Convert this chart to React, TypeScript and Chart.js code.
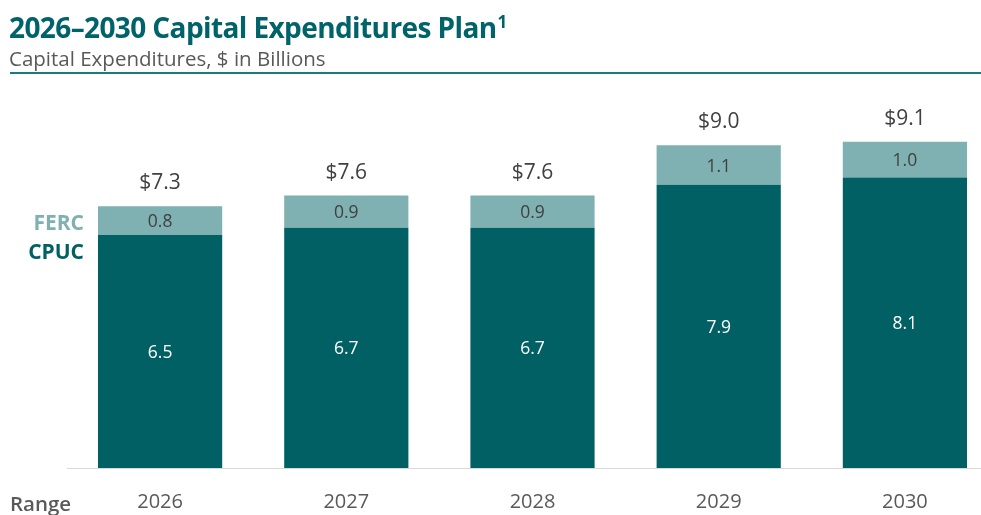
import React, { useEffect, useRef } from "react";
import { Chart, registerables } from "chart.js";

Chart.register(...registerables);

const years = ["2026", "2027", "2028", "2029", "2030"];
const cpuc = [6.5, 6.7, 6.7, 7.9, 8.1];
const ferc = [0.8, 0.9, 0.9, 1.1, 1.0];
const totals = ["$7.3", "$7.6", "$7.6", "$9.0", "$9.1"];

const DARK = "#006064";
const LIGHT = "#7fb0b2";
const FONT = "'Open Sans', 'Noto Sans', sans-serif";

const labelPlugin = {
  id: "barLabels",
  afterDatasetsDraw(chart: any) {
    const ctx = chart.ctx;
    ctx.save();
    ctx.textAlign = "center";
    ctx.textBaseline = "middle";
    chart.data.datasets.forEach((ds: any, di: number) => {
      const meta = chart.getDatasetMeta(di);
      meta.data.forEach((bar: any, i: number) => {
        const top = Math.min(bar.y, bar.base);
        const bot = Math.max(bar.y, bar.base);
        ctx.font = `17.5px ${FONT}`;
        ctx.fillStyle = di === 0 ? "#ffffff" : "#404040";
        ctx.fillText(ds.data[i].toFixed(1), bar.x, (top + bot) / 2 + 1.5);
        if (di === chart.data.datasets.length - 1) {
          ctx.font = `21px ${FONT}`;
          ctx.fillStyle = "#404040";
          ctx.fillText(totals[i], bar.x, top - 23);
        }
      });
    });
    ctx.restore();
  },
};

export default function App() {
  const ref = useRef<HTMLCanvasElement>(null);
  useEffect(() => {
    if (!ref.current) return;
    const chart = new Chart(ref.current, {
      type: "bar",
      data: {
        labels: years,
        datasets: [
          { label: "CPUC", data: cpuc, backgroundColor: DARK },
          { label: "FERC", data: ferc, backgroundColor: LIGHT },
        ],
      },
      options: {
        animation: false,
        responsive: false,
        devicePixelRatio: 1,
        layout: { padding: { left: 67, right: 2, top: 109.5, bottom: 0 } },
        datasets: { bar: { categoryPercentage: 1, barPercentage: 0.667 } },
        plugins: { legend: { display: false }, tooltip: { enabled: false } },
        scales: {
          x: {
            stacked: true,
            grid: { color: "transparent", drawTicks: false },
            border: { display: true, color: "#d9d9d9", width: 1 },
            ticks: { color: "#595959", font: { family: FONT, size: 20 }, padding: 22 },
            afterFit: (s: any) => {
              s.height = 47;
            },
          },
          y: { stacked: true, display: false, min: 0, max: 10 },
        },
      },
      plugins: [labelPlugin],
    });
    return () => chart.destroy();
  }, []);

  return (
    <div
      style={{
        position: "absolute",
        left: 0,
        top: 0,
        width: 981,
        height: 515,
        overflow: "hidden",
        background: "#fff",
        fontFamily: FONT,
      }}
    >
      <canvas ref={ref} width={1000} height={515} style={{ position: "absolute", left: 0, top: 0 }} />
      <div
        style={{
          position: "absolute",
          left: 9,
          top: 6,
          fontSize: 28,
          fontWeight: 700,
          color: "#00636a",
          lineHeight: "32px",
          whiteSpace: "nowrap",
          letterSpacing: -0.6,
        }}
      >
        2026–2030 Capital Expenditures Plan<sup style={{ fontSize: 17, verticalAlign: 10, marginLeft: 1 }}>1</sup>
      </div>
      <div
        style={{
          position: "absolute",
          left: 9,
          top: 45,
          fontSize: 20.5,
          color: "#595959",
          lineHeight: "26px",
          whiteSpace: "nowrap",
        }}
      >
        Capital Expenditures, $ in Billions
      </div>
      <div
        style={{
          position: "absolute",
          left: 10,
          top: 72,
          width: 971,
          height: 2,
          background: "#1a7a80",
        }}
      />
      <div
        style={{
          position: "absolute",
          right: 897,
          top: 208,
          fontSize: 21,
          fontWeight: 700,
          color: LIGHT,
          lineHeight: "28px",
        }}
      >
        FERC
      </div>
      <div
        style={{
          position: "absolute",
          right: 897,
          top: 237,
          fontSize: 21,
          fontWeight: 700,
          color: DARK,
          lineHeight: "28px",
        }}
      >
        CPUC
      </div>
      <div
        style={{
          position: "absolute",
          left: 10,
          top: 489,
          fontSize: 20.5,
          fontWeight: 600,
          color: "#595959",
          lineHeight: "28px",
        }}
      >
        Range
      </div>
    </div>
  );
}
